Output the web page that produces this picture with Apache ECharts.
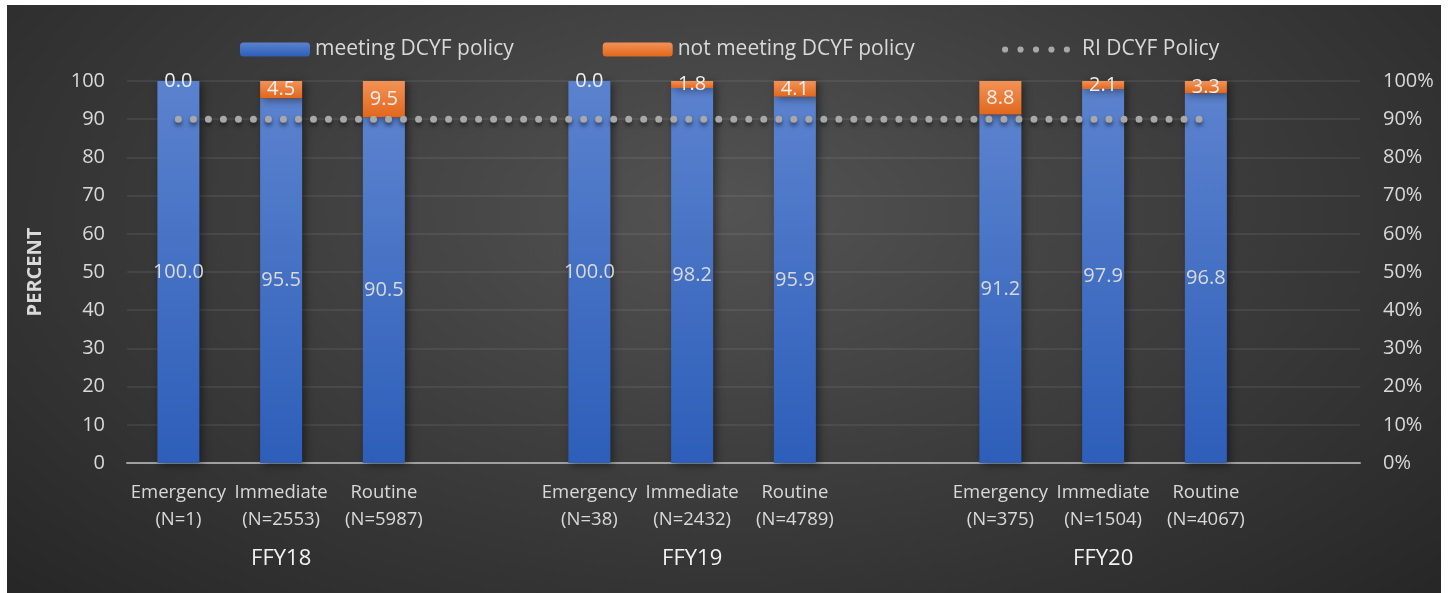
<!DOCTYPE html>
<html>
<head>
<meta charset="utf-8">
<title>DCYF policy by response type</title>
<script src="https://cdn.jsdelivr.net/npm/echarts@6/dist/echarts.min.js"></script>
<style>
  html, body { margin: 0; padding: 0; background: #fff; }
  #chart {
    position: absolute;
    left: 7px;
    top: 5px;
    width: 1434px;
    height: 588px;
    background: radial-gradient(ellipse 70% 95% at 50% 35%, #535353 0%, #3e3e3e 45%, #262626 100%);
  }
</style>
</head>
<body>
<div id="chart"></div>
<script>
// categories (12 slots, every 4th one is an empty spacer)
var responseTypes = ["Emergency", "Immediate", "Routine", "", "Emergency", "Immediate", "Routine", "", "Emergency", "Immediate", "Routine", ""];
var sampleSizes = ["N=1", "N=2553", "N=5987", "", "N=38", "N=2432", "N=4789", "", "N=375", "N=1504", "N=4067", ""];
var fiscalYears = ["", "FFY18", "", "", "", "FFY19", "", "", "", "FFY20", "", ""];

// values
var meetingPolicy = [100.0, 95.5, 90.5, null, 100.0, 98.2, 95.9, null, 91.2, 97.9, 96.8, null];
var notMeetingPolicy = [0.0, 4.5, 9.5, null, 0.0, 1.8, 4.1, null, 8.8, 2.1, 3.3, null];
var policyLevel = [90, 90, 90, 90, 90, 90, 90, 90, 90, 90, 90, null];

var yTicks = { min: 0, max: 100, interval: 10 };

var labelColor = "#d9d9d9";
var font = "'Open Sans', 'Noto Sans', sans-serif";

// five dots for the policy line legend icon
var dotsIcon = "path://M0,3a3,3 0 1,0 6,0a3,3 0 1,0 -6,0" +
  "M15,3a3,3 0 1,0 6,0a3,3 0 1,0 -6,0" +
  "M30,3a3,3 0 1,0 6,0a3,3 0 1,0 -6,0" +
  "M45,3a3,3 0 1,0 6,0a3,3 0 1,0 -6,0" +
  "M60,3a3,3 0 1,0 6,0a3,3 0 1,0 -6,0";

var categoryLabels = responseTypes.map(function (t, i) {
  return t ? t + "\n(" + sampleSizes[i] + ")" : "";
});

var chart = echarts.init(document.getElementById("chart"));

var option = {
  backgroundColor: "transparent",
  textStyle: { fontFamily: font },
  animation: false,
  legend: [
    {
      top: 29,
      left: 228,
      itemWidth: 70,
      itemHeight: 14,
      itemGap: 89,
      textStyle: { color: labelColor, fontSize: 21, fontFamily: font },
      data: ["meeting DCYF policy", "not meeting DCYF policy"]
    },
    {
      top: 29,
      left: 990,
      itemWidth: 68,
      itemHeight: 7,
      textStyle: { color: labelColor, fontSize: 21, fontFamily: font, padding: [0, 0, 0, 7] },
      data: [{ name: "RI DCYF Policy", icon: dotsIcon }]
    }
  ],
  grid: {
    left: 120,
    right: 81,
    top: 76,
    bottom: 130
  },
  xAxis: [
    {
      type: "category",
      data: categoryLabels,
      axisLine: { lineStyle: { color: "#a0a0a0", width: 2 } },
      axisTick: { show: false },
      axisLabel: {
        interval: 0,
        color: labelColor,
        fontSize: 18.5,
        lineHeight: 27,
        margin: 16
      }
    },
    {
      type: "category",
      position: "bottom",
      data: fiscalYears,
      axisLine: { show: false },
      axisTick: { show: false },
      axisLabel: {
        interval: 0,
        color: "#f2f2f2",
        fontSize: 22,
        margin: 85
      }
    }
  ],
  yAxis: [
    {
      type: "value",
      min: yTicks.min,
      max: yTicks.max,
      interval: yTicks.interval,
      name: "PERCENT",
      nameLocation: "middle",
      nameGap: 82,
      nameRotate: 90,
      nameTextStyle: { color: labelColor, fontSize: 20, fontWeight: "bold" },
      axisLine: { show: false },
      axisTick: { show: false },
      axisLabel: { color: labelColor, fontSize: 20, margin: 22 },
      splitLine: { lineStyle: { color: "rgba(255,255,255,0.09)", width: 1.5 } }
    },
    {
      type: "value",
      min: yTicks.min,
      max: yTicks.max,
      interval: yTicks.interval,
      position: "right",
      axisLine: { show: false },
      axisTick: { show: false },
      splitLine: { show: false },
      axisLabel: {
        color: labelColor,
        fontSize: 20,
        margin: 23,
        formatter: function (v) { return v + "%"; }
      }
    }
  ],
  series: [
    {
      name: "meeting DCYF policy",
      type: "bar",
      stack: "total",
      barWidth: 42,
      data: meetingPolicy,
      itemStyle: {
        color: new echarts.graphic.LinearGradient(0, 0, 0, 1, [
          { offset: 0, color: "#5b82ce" },
          { offset: 1, color: "#2d5eb9" }
        ]),
        shadowColor: "rgba(0,0,0,0.45)",
        shadowBlur: 8,
        shadowOffsetX: 3,
        shadowOffsetY: 2
      },
      label: {
        show: true,
        position: "inside",
        color: labelColor,
        fontSize: 20,
        formatter: function (p) { return p.value.toFixed(1); }
      }
    },
    {
      name: "not meeting DCYF policy",
      type: "bar",
      stack: "total",
      barWidth: 42,
      data: notMeetingPolicy,
      itemStyle: {
        color: new echarts.graphic.LinearGradient(0, 0, 0, 1, [
          { offset: 0, color: "#f39256" },
          { offset: 1, color: "#e2671c" }
        ]),
        shadowColor: "rgba(0,0,0,0.45)",
        shadowBlur: 8,
        shadowOffsetX: 3,
        shadowOffsetY: 2
      },
      label: {
        show: true,
        position: "inside",
        color: "#eeeeee",
        fontSize: 20,
        formatter: function (p) { return p.value.toFixed(1); }
      }
    },
    {
      name: "RI DCYF Policy",
      type: "line",
      data: policyLevel,
      symbol: "none",
      showSymbol: false,
      lineStyle: {
        color: "#a8a8a8",
        width: 7,
        type: [0.01, 15],
        cap: "round",
        shadowColor: "rgba(0,0,0,0.5)",
        shadowBlur: 4,
        shadowOffsetY: 3
      },
      itemStyle: { color: "#a8a8a8" },
      z: 5
    }
  ]
};

chart.setOption(option);
</script>
</body>
</html>
